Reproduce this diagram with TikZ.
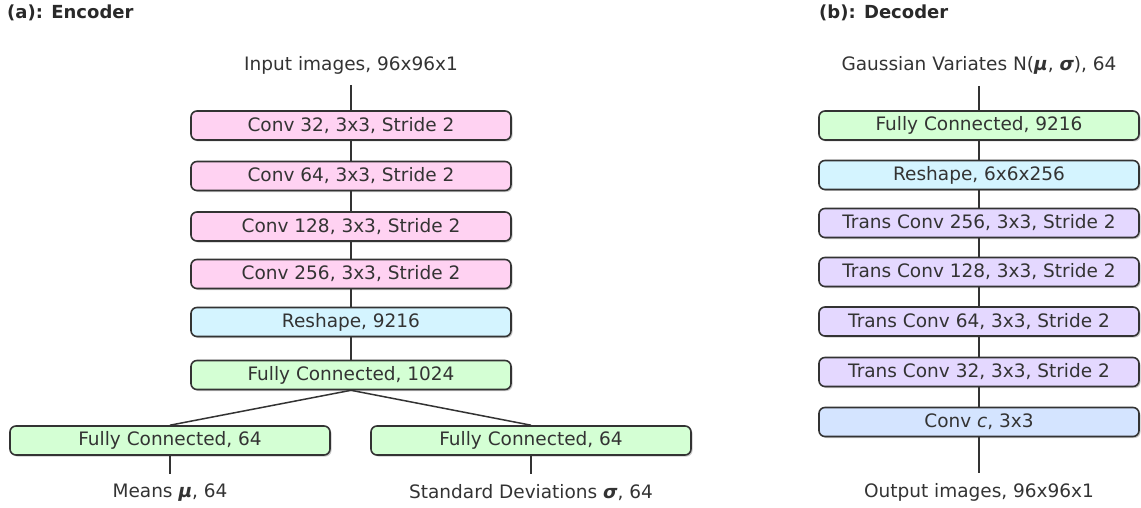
\documentclass[tikz,border=0pt]{standalone}
\usepackage{fontspec}
\setmainfont{DejaVu Sans}
\usetikzlibrary{shadows}
\definecolor{pinkf}{HTML}{FFD2F2}
\definecolor{cyanf}{HTML}{D4F4FF}
\definecolor{greenf}{HTML}{D4FFD4}
\definecolor{lavf}{HTML}{E4D8FF}
\definecolor{bluef}{HTML}{D4E4FF}
\definecolor{txt}{HTML}{333333}
\tikzset{
  layer/.style={draw=txt, line width=1.6pt, rounded corners=6pt, minimum width=320pt, minimum height=29pt, inner sep=0pt,
    text=txt, font=\fontsize{18.5}{22}\selectfont, drop shadow={shadow xshift=1.5pt, shadow yshift=-1.5pt, opacity=0.35, fill=black!60}},
  lbl/.style={text=txt, font=\fontsize{18.5}{22}\selectfont, inner sep=0pt},
  ttl/.style={text=txt!80!black, font=\fontsize{18}{21}\selectfont\bfseries, inner sep=0pt, anchor=west},
  conn/.style={draw=txt, line width=1.5pt}
}
\begin{document}
\begin{tikzpicture}[x=1pt,y=-1pt]
\useasboundingbox (0,0) rectangle (1141,508);
% titles
\node[ttl] (ta) at (7,13) {(a): Encoder};
\node[ttl] (tb) at (819,13) {(b): Decoder};
% encoder
\node[lbl] (in) at (351,65) {Input images, 96x96x1};
\coordinate (inb) at (351,85);
\node[layer, fill=pinkf] (e1) at (351,125.5) {Conv 32, 3x3, Stride 2};
\node[layer, fill=pinkf] (e2) at (351,176) {Conv 64, 3x3, Stride 2};
\node[layer, fill=pinkf] (e3) at (351,226.5) {Conv 128, 3x3, Stride 2};
\node[layer, fill=pinkf] (e4) at (351,274) {Conv 256, 3x3, Stride 2};
\node[layer, fill=cyanf] (e5) at (351,322) {Reshape, 9216};
\node[layer, fill=greenf] (e6) at (351,375) {Fully Connected, 1024};
\node[layer, fill=greenf] (m) at (170,440.5) {Fully Connected, 64};
\node[layer, fill=greenf] (s) at (531,440.5) {Fully Connected, 64};
\coordinate (mb) at (170,474);
\coordinate (sb) at (531,474);
\node[lbl] (mt) at (170,493) {Means \textbf{\textit{μ}}, 64};
\node[lbl] (st) at (531,493) {Standard Deviations \textbf{\textit{σ}}, 64};
\draw[conn] (inb) -- (e1.north);
\draw[conn] (e1) -- (e2);
\draw[conn] (e2) -- (e3);
\draw[conn] (e3) -- (e4);
\draw[conn] (e4) -- (e5);
\draw[conn] (e5) -- (e6);
\draw[conn] (e6.south) -- (m.north);
\draw[conn] (e6.south) -- (s.north);
\draw[conn] (m.south) -- (mb);
\draw[conn] (s.south) -- (sb);
% decoder
\node[lbl] (gi) at (979,65) {Gaussian Variates N(\textbf{\textit{μ}}, \textbf{\textit{σ}}), 64};
\coordinate (gib) at (979,86);
\node[layer, fill=greenf] (d1) at (979,125.5) {Fully Connected, 9216};
\node[layer, fill=cyanf] (d2) at (979,175) {Reshape, 6x6x256};
\node[layer, fill=lavf] (d3) at (979,223) {Trans Conv 256, 3x3, Stride 2};
\node[layer, fill=lavf] (d4) at (979,272) {Trans Conv 128, 3x3, Stride 2};
\node[layer, fill=lavf] (d5) at (979,321.5) {Trans Conv 64, 3x3, Stride 2};
\node[layer, fill=lavf] (d6) at (979,372) {Trans Conv 32, 3x3, Stride 2};
\node[layer, fill=bluef] (d7) at (979,422) {Conv \textit{c}, 3x3};
\coordinate (d7b) at (979,473);
\node[lbl] (out) at (979,492) {Output images, 96x96x1};
\draw[conn] (gib) -- (d1.north);
\draw[conn] (d1) -- (d2);
\draw[conn] (d2) -- (d3);
\draw[conn] (d3) -- (d4);
\draw[conn] (d4) -- (d5);
\draw[conn] (d5) -- (d6);
\draw[conn] (d6) -- (d7);
\draw[conn] (d7.south) -- (d7b);
\end{tikzpicture}
\end{document}
